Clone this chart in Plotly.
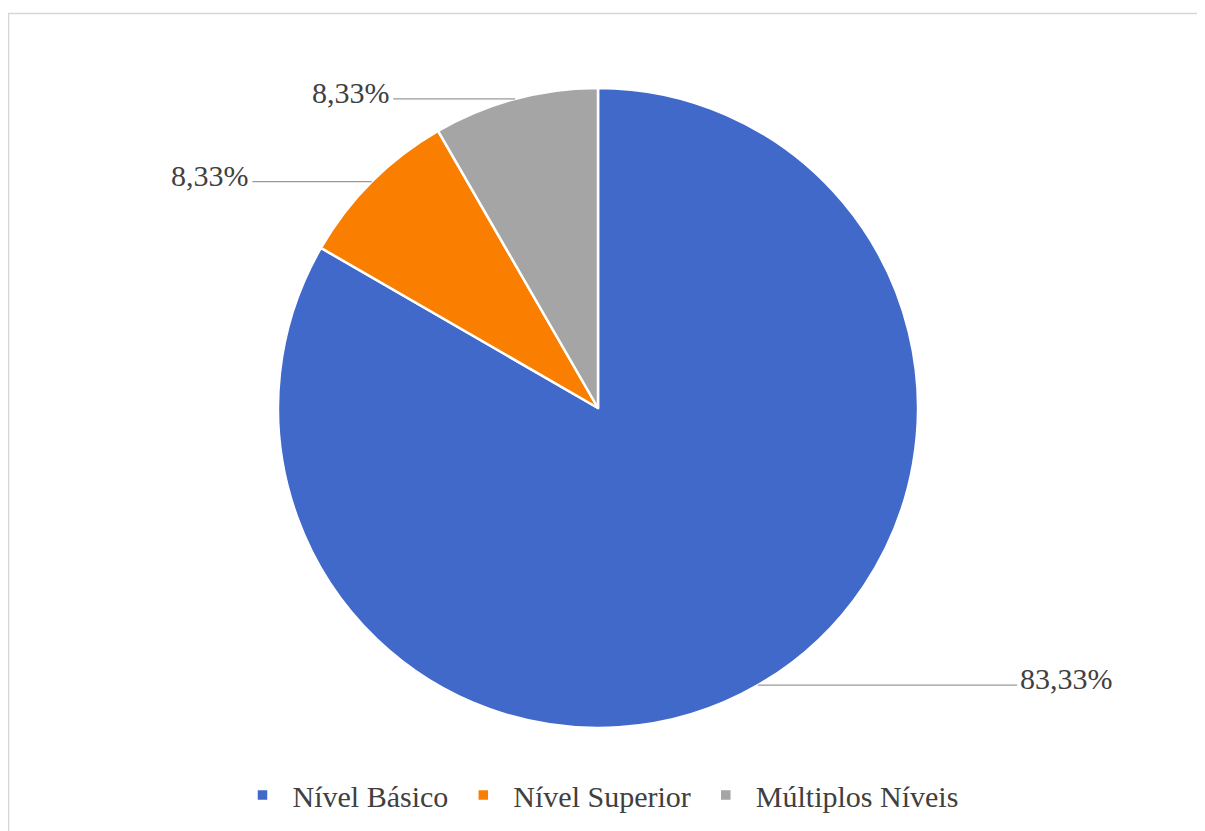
import math
import plotly.graph_objects as go

# ---- data ----
categories = ["Nível Básico", "Nível Superior", "Múltiplos Níveis"]
values = [83.33, 8.33, 8.33]
value_labels = ["83,33%", "8,33%", "8,33%"]
colors = ["#4169C9", "#FA7F00", "#A5A5A5"]

# ---- layout constants (pixels, figure coordinates; page body adds ~8px offset) ----
OFF = 8
W, H = 1205, 831
CX, CY, R = 598 - OFF, 408 - OFF, 320
ML = 0
PW = 2 * CX - ML          # centre the plot area on CX
MR = W - ML - PW
MT = CY - R
MB = H - (CY + R)
XR = PW / 2.0 / R         # x half-range in radius units

# horizontal end of each leader line, in radius units (label placement)
label_line_end = [1.31, -1.08, -0.64]

SERIF = "Liberation Serif"

fig = go.Figure()
fig.add_trace(go.Pie(
    labels=categories, values=values, sort=False, direction="clockwise",
    rotation=0, textinfo="none", hoverinfo="label+percent",
    marker=dict(colors=colors, line=dict(color="white", width=2.5)),
    domain=dict(x=[0, 1], y=[0, 1]),
))

total = sum(values)
cum = 0.0
shapes = []
annotations = []
lab_font = dict(family=SERIF, size=30, color="#404040")
for v, lab, xend in zip(values, value_labels, label_line_end):
    mid = (cum + v / 2.0) / total * 2 * math.pi
    cum += v
    px, py = math.sin(mid), math.cos(mid)
    shapes.append(dict(type="line", xref="x", yref="y", x0=px, y0=py, x1=xend, y1=py,
                       line=dict(color="#9A9A9A", width=1.2)))
    if xend > px:
        annotations.append(dict(x=xend, y=py, xref="x", yref="y", text=lab, showarrow=False,
                                xanchor="left", yanchor="middle", xshift=1, yshift=7,
                                font=lab_font))
    else:
        annotations.append(dict(x=xend, y=py, xref="x", yref="y", text=lab, showarrow=False,
                                xanchor="right", yanchor="middle", xshift=-1, yshift=6,
                                font=lab_font))


def px_to_paper_x(p):
    return (p - OFF - ML) / PW


def px_to_paper_y(p):
    return (H - MB - (p - OFF)) / (H - MT - MB)


# chart frame (top and left edges visible)
shapes.append(dict(type="rect", xref="paper", yref="paper",
                   x0=px_to_paper_x(8.5), y0=px_to_paper_y(H + 20),
                   x1=px_to_paper_x(W + 20), y1=px_to_paper_y(13.5),
                   line=dict(color="#D6D6D6", width=1.5), fillcolor="rgba(0,0,0,0)", layer="below"))

fig.update_layout(
    width=W, height=H,
    margin=dict(l=ML, r=MR, t=MT, b=MB),
    paper_bgcolor="white", plot_bgcolor="rgba(0,0,0,0)",
    font=dict(family=SERIF),
    xaxis=dict(range=[-XR, XR], visible=False, fixedrange=True),
    yaxis=dict(range=[-1, 1], visible=False, fixedrange=True),
    shapes=shapes, annotations=annotations,
    showlegend=True,
    legend=dict(orientation="h", x=px_to_paper_x(598), xanchor="center",
                y=px_to_paper_y(795), yanchor="middle",
                font=dict(family=SERIF, size=30, color="#404040"),
                itemwidth=50, traceorder="normal"),
)

fig.write_html("out.html")
